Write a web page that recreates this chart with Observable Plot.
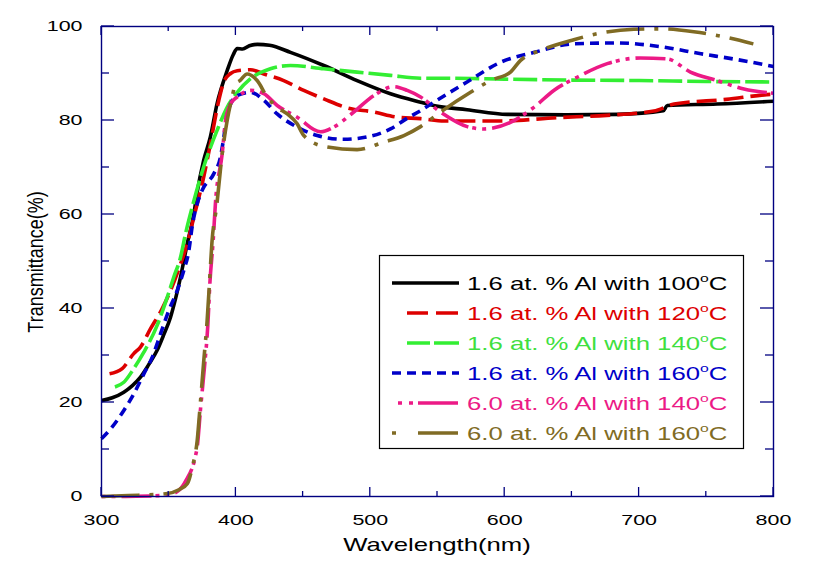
<!DOCTYPE html>
<html><head><meta charset="utf-8">
<script src="https://cdn.jsdelivr.net/npm/d3@7"></script>
<script src="https://cdn.jsdelivr.net/npm/@observablehq/plot@0.6"></script>
<style>body{margin:0;background:#fff;} #chart{width:814px;height:570px;}</style>
</head><body><div id="chart"></div>
<script>
// ---- data: [wavelength nm, transmittance %] ----
const al16_100C = [[300,20.4],[308,21.0],[316.6,22.2],[323,23.6],[329,25.4],[335,28],[341.4,31.1],[346,34.2],[351.3,38.1],[355,42],[358.8,46.7],[363.8,53.8],[368.7,60.1],[371,64.4],[376,71.5],[381,76.5],[386,83.6],[393.5,90.6],[398,94],[401,95.3],[405,95.2],[410,95.9],[416,96.2],[425,96],[440.6,94.5],[465.4,91.7],[490.2,88.5],[515,85.7],[537.4,83.9],[547,83.2],[572,82.3],[602,81.3],[646,81.2],[684,81.3],[718,82.1],[721,83.2],[758,83.5],[800,84.1]];
const al16_120C = [[306,26.1],[315.4,27.2],[324,30.4],[329,31.8],[336.5,35.7],[345,39.9],[351.3,43.8],[357.5,48.4],[363.8,53.8],[368.7,59.4],[376,67.9],[381,75],[387.3,84.3],[391,88.2],[396,90],[401,90.6],[410.9,90.8],[420.8,89.9],[435.6,88.5],[450.5,86.4],[465.4,84.6],[482.8,82.7],[502.6,81.8],[520,80.7],[537.4,80.4],[555,79.9],[597,79.9],[639,80.6],[676,81.1],[711,82],[726,83.5],[765,84.5],[795,85.5],[800,85.6]];
const al16_140C = [[310,23.3],[316.6,24.3],[324,27.2],[331.5,30.7],[341.4,36.4],[348.9,42.4],[353.8,46.7],[358.8,50.9],[362.5,55.9],[367.5,61.6],[376,70.1],[386,77.9],[393.5,82.8],[401,86],[410.9,88.9],[425.7,91],[440.6,91.7],[465.4,91],[490.2,90.3],[515,89.6],[537.4,89],[560,89],[600,88.8],[650,88.6],[700,88.5],[750,88.3],[800,88.2]];
const al16_160C = [[300,12.3],[308,14.8],[316.6,18.3],[324,21.8],[331.5,26.1],[337.7,29.6],[343.9,34.6],[350.1,39.6],[356.3,43.8],[361.2,48.1],[365,52.3],[367.5,57.5],[371.2,62.3],[375,65.2],[383.6,68.7],[388.5,72.2],[391,76.4],[393.5,81.4],[401,85.3],[410.9,86],[420.8,84.3],[430.7,81.4],[445.6,78.6],[460.5,76.8],[480.3,76],[497.7,76.5],[515,78.2],[527,80.4],[537.4,82.1],[547.3,83.9],[572,88.2],[597,92.4],[622,94.5],[651,96.3],[684,96.5],[716,95.7],[746,94.2],[770,93.1],[800,91.5]];
const al60_140C = [[300,0],[318,0],[335,0.1],[349,0.3],[357.5,1.3],[363,3.5],[370,8.7],[371.2,10.5],[373.7,18.7],[376.6,27.5],[379.1,36.4],[380.6,45.2],[383.1,54.5],[384.8,62.5],[389.8,72.9],[392.3,80],[396,83.5],[401,85],[410.9,86.4],[420.8,85.7],[430.7,83.2],[445.6,80.7],[463,77.6],[472.8,78.6],[487.7,81.8],[502.6,85.3],[517.5,87.2],[527.5,86.4],[537.4,85],[552.2,81.8],[572.1,78.7],[584.5,78.2],[604.3,79.6],[621.7,82.8],[636.5,86.4],[653.9,89.2],[676.3,92.1],[701,93.3],[721,93.1],[738.2,90.3],[758,88.5],[778,86.7],[800,85.8]];
const al60_160C = [[300,0],[320,0.2],[348,0.6],[358,1.5],[363.8,2.7],[367.5,6.2],[371.2,11.9],[373.7,20.4],[376.1,28.9],[378.6,37.4],[380.6,46.7],[382.3,54.5],[385.6,61.6],[389.8,72.9],[393.5,80],[397.2,85],[399.7,87.8],[403,88.5],[408.4,89.9],[415.8,88.5],[423.3,85],[430.7,82.8],[438.2,81.4],[445.6,79.3],[450.5,76.8],[465.4,74.5],[490.2,73.8],[510,75.4],[525,76.8],[537.4,78.7],[552.2,81.8],[574.6,86],[589.4,88.5],[604.3,90.3],[611.8,92.8],[626.6,94.9],[651.4,97.2],[671.3,98.6],[696.1,99.4],[715.9,99.5],[740.7,98.9],[758,98.1],[785,96.3]];

const seriesData = [al16_100C, al16_120C, al16_140C, al16_160C, al60_140C, al60_160C];
const seriesNames = ["1.6 at. % Al with 100", "1.6 at. % Al with 120", "1.6 at. % Al with 140", "1.6 at. % Al with 160", "6.0 at. % Al with 140", "6.0 at. % Al with 160"];
const seriesColors = ["#000000", "#dd0000", "#33ee33", "#0000c8", "#ec1a86", "#806b24"];
const seriesDash = [null, "20,7", "24,5", "9,6", "4,6,4,6,30,4", "38,10,4,10"];

const xTicks = [300, 400, 500, 600, 700, 800];
const xMinorTicks = [350, 450, 550, 650, 750];
const yTicks = [0, 20, 40, 60, 80, 100];
const yMinorTicks = [10, 30, 50, 70, 90];
const xTitle = "Wavelength(nm)";
const yTitle = "Transmittance(%)";

const navy = "#000080";
const STRETCH = 1.43;

const lineMarks = seriesData.map((d, i) => Plot.line(d, {
  x: p => p[0], y: p => p[1], stroke: seriesColors[i], strokeWidth: 3.6,
  strokeDasharray: seriesDash[i] || undefined, curve: "monotone-x", strokeLinecap: "butt"
}));

const plot = Plot.plot({
  width: 814, height: 570,
  marginLeft: 101, marginRight: 41, marginTop: 26, marginBottom: 74,
  style: {fontFamily: "'Liberation Sans', Arial, sans-serif", fontSize: "15px", color: "#000", background: "#fff"},
  x: {domain: [300, 800], axis: null},
  y: {domain: [0, 100], axis: null},
  marks: [
    ...lineMarks,
    Plot.axisX(xTicks, {anchor: "bottom", tickSize: 0, tickPadding: 18, tickFormat: d => String(d), label: null, fontSize: 15, fill: "#000"}),
    Plot.axisY(yTicks, {anchor: "left", tickSize: 0, tickPadding: 19, tickFormat: d => String(d), label: null, fontSize: 15, fill: "#000"}),
    Plot.frame({stroke: navy, strokeWidth: 1.4})
  ]
});

document.getElementById("chart").appendChild(plot);
const svg = d3.select(plot);

// stretch tick labels horizontally (as in reference)
svg.selectAll("text").each(function() {
  const t = this.getAttribute("transform") || "";
  this.setAttribute("transform", t + ` scale(${STRETCH},1)`);
});

const xs = plot.scale("x"), ys = plot.scale("y");
const X0 = xs.apply(300), X1 = xs.apply(800), Y0 = ys.apply(0), Y1 = ys.apply(100);
const tg = svg.append("g").attr("stroke", navy).attr("stroke-width", 1.3);
function xTick(v, len) {
  const x = xs.apply(v);
  tg.append("line").attr("x1", x).attr("x2", x).attr("y1", Y0).attr("y2", Y0 - len);
  tg.append("line").attr("x1", x).attr("x2", x).attr("y1", Y1).attr("y2", Y1 + len);
}
function yTick(v, len) {
  const y = ys.apply(v);
  tg.append("line").attr("x1", X0).attr("x2", X0 + len).attr("y1", y).attr("y2", y);
  tg.append("line").attr("x1", X1).attr("x2", X1 - len).attr("y1", y).attr("y2", y);
}
xTicks.forEach(v => xTick(v, 9));
xMinorTicks.forEach(v => xTick(v, 5));
yTicks.forEach(v => yTick(v, 13));
yMinorTicks.forEach(v => yTick(v, 8));

// axis titles
svg.append("text").attr("transform", `translate(${(X0 + X1) / 2},551) scale(${STRETCH},1)`)
  .attr("text-anchor", "middle").attr("font-size", 18).attr("fill", "#000").text(xTitle);
svg.append("text").attr("transform", `translate(37,262) rotate(-90) scale(1,1.2)`)
  .attr("text-anchor", "middle").attr("dominant-baseline", "middle").attr("font-size", 18).attr("fill", "#000").text(yTitle);

// legend
const lg = svg.append("g").attr("text-anchor", "start");
lg.append("rect").attr("x", 379.5).attr("y", 255.5).attr("width", 364).attr("height", 193)
  .attr("fill", "#fff").attr("stroke", "#000").attr("stroke-width", 1.2);
const sampleStart = [392, 407, 407, 392, 398, 392];
seriesNames.forEach((name, i) => {
  const cy = 283 + i * 30;
  lg.append("line").attr("x1", sampleStart[i]).attr("x2", 459).attr("y1", cy).attr("y2", cy)
    .attr("stroke", seriesColors[i]).attr("stroke-width", 3.6)
    .attr("stroke-dasharray", i === 4 ? "4,7,4,5,40" : i === 5 ? "4,22,40" : i === 1 ? "21,8,22" : i === 2 ? "23,4,25" : seriesDash[i]);
  const t = lg.append("text").attr("transform", `translate(467,${cy + 6.5}) scale(${STRETCH},1)`)
    .attr("text-anchor", "start").attr("font-size", 18)
    .attr("fill", seriesColors[i] === "#33ee33" ? "#3fe03f" : seriesColors[i]);
  t.append("tspan").text(name);
  t.append("tspan").attr("font-size", 11).attr("dy", -8).text("o");
  t.append("tspan").attr("dy", 8).text("C");
});
</script></body></html>
